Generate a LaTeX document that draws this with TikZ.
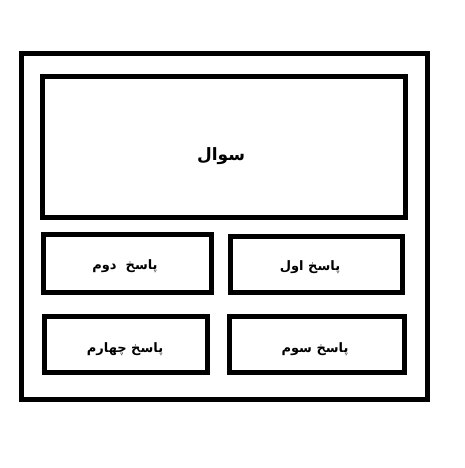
\documentclass[tikz,border=0pt]{standalone}
\usepackage{fontspec}
\TeXXeTstate=1
\newfontfamily\arabicfont[Script=Arabic]{DejaVu Sans}
\begin{document}
\begin{tikzpicture}[x=1pt,y=-1pt,
  frame/.style={draw=black,line width=5pt},
  lbl/.style={font=\arabicfont\bfseries\fontsize{13}{15}\selectfont,inner sep=0pt},
  qlbl/.style={font=\arabicfont\bfseries\fontsize{17}{20}\selectfont,inner sep=0pt}]
\useasboundingbox (0,0) rectangle (464,468);
\fill[white] (0,0) rectangle (464,468);
\draw[frame] (21.5,53.5) rectangle (427.5,399.5);
\draw[frame] (42.5,77) rectangle (405,217);
\draw[frame] (43.5,234) rectangle (211.5,292);
\draw[frame] (230,236) rectangle (402.5,292.5);
\draw[frame] (44.5,316.5) rectangle (207.5,372.5);
\draw[frame] (229,316) rectangle (404,372.5);
\node[qlbl] (q) at (221,156) {\beginR سوال\endR};
\node[lbl] (a2) at (125,266) {\beginR پاسخ\ \ دوم\endR};
\node[lbl] (a1) at (310,267) {\beginR پاسخ اول\endR};
\node[lbl] (a4) at (125,349) {\beginR پاسخ چهارم\endR};
\node[lbl] (a3) at (315,349) {\beginR پاسخ سوم\endR};
\end{tikzpicture}
\end{document}
